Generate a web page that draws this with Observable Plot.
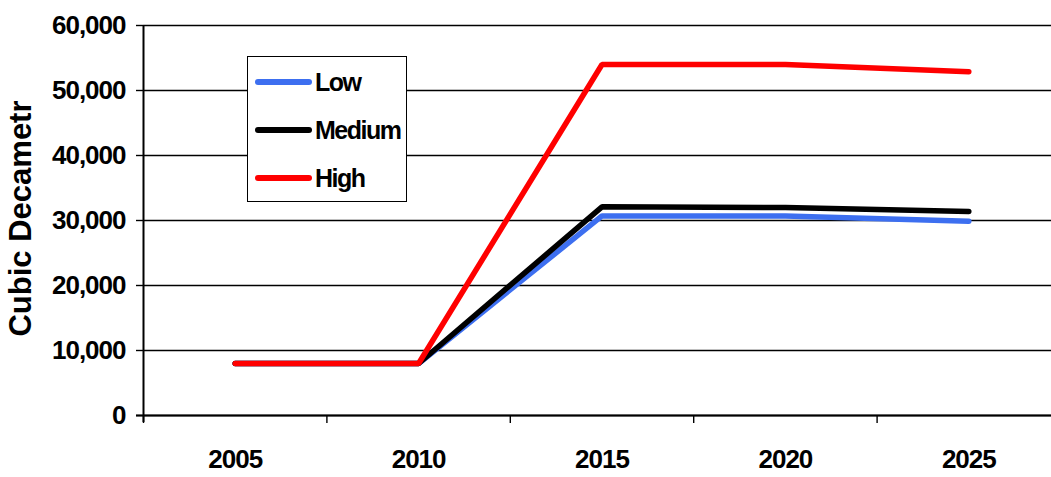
<!DOCTYPE html>
<html>
<head>
<meta charset="utf-8">
<script src="https://cdn.jsdelivr.net/npm/d3@7"></script>
<script src="https://cdn.jsdelivr.net/npm/@observablehq/plot@0.6"></script>
<style>
  html, body { margin: 0; padding: 0; background: #fff; }
  body { font-family: "Liberation Sans", Arial, sans-serif; }
  #chart { position: relative; width: 1051px; height: 477px; overflow: hidden; }
  #chart svg { display: block; }
  .legend {
    position: absolute; left: 247px; top: 56px; width: 160px; height: 146px;
    box-sizing: border-box; border: 1.5px solid #000; background: #fff;
  }
  .legend .item { position: absolute; left: 7px; height: 30px; display: flex; align-items: center; }
  .legend .swatch { width: 57px; height: 6px; border-radius: 3px; }
  .legend .name { margin-left: 3px; font-size: 25px; font-weight: bold; letter-spacing: -1.5px; color: #000; }
</style>
</head>
<body>
<div id="chart"></div>
<script>
// Projected volumes per scenario, in cubic decametres
const years = [2005, 2010, 2015, 2020, 2025];
const lowValues = [8000, 8000, 30700, 30700, 29900];
const mediumValues = [8000, 8000, 32100, 32000, 31400];
const highValues = [8000, 8000, 54000, 54000, 52900];

const seriesNames = ["Low", "Medium", "High"];
const seriesColors = ["#3d6ff0", "#000000", "#ff0000"];
const yTicks = [0, 10000, 20000, 30000, 40000, 50000, 60000];
const yTitle = "Cubic Decametr";

// Category boundaries sit halfway between consecutive years
const step = years[1] - years[0];
const boundaries = years.map(y => y - step / 2);
const xDomain = [years[0] - step / 2, years[years.length - 1] + step / 2];

const seriesValues = [lowValues, mediumValues, highValues];
const table = seriesNames.flatMap((name, i) =>
  years.map((year, j) => ({series: name, year, value: seriesValues[i][j]}))
);

const font = {fontSize: 26, fontWeight: "bold"};

const chart = Plot.plot({
  width: 1051,
  height: 477,
  marginLeft: 143,
  marginTop: 25,
  marginBottom: 62,
  marginRight: 0,
  style: {fontFamily: "'Liberation Sans', Arial, sans-serif", color: "#000", background: "#fff", overflow: "visible"},
  x: {type: "linear", domain: xDomain, range: [143, 1060]},
  y: {domain: [0, 60000], range: [415, 25]},
  color: {domain: seriesNames, range: seriesColors},
  marks: [
    Plot.gridY(yTicks, {stroke: "#000", strokeOpacity: 1, strokeWidth: 1.4}),
    Plot.axisY({
      ticks: yTicks, tickFormat: d3.format(","), tickSize: 7, tickPadding: 11,
      label: null, strokeWidth: 1.4, ...font
    }),
    Plot.axisX({ticks: boundaries, tickFormat: () => "", tickSize: 8, strokeWidth: 1.4, label: null}),
    Plot.axisX({
      ticks: years, tickFormat: d => String(d), tickSize: 0, tickPadding: 34,
      label: null, ...font
    }),
    Plot.ruleX([xDomain[0]], {stroke: "#000", strokeWidth: 2, insetBottom: -7}),
    Plot.ruleY([0], {stroke: "#000", strokeWidth: 2.2, insetLeft: -7}),
    Plot.text([yTitle], {
      frameAnchor: "left", textAnchor: "middle", dx: -122, dy: -2, rotate: -90,
      fontSize: 31, fontWeight: "bold", fill: "#000"
    }),
    Plot.line(table, {
      x: "year", y: "value", z: "series", stroke: "series",
      strokeWidth: 5.5, strokeLinejoin: "miter", strokeLinecap: "round"
    })
  ]
});

d3.select(chart).selectAll("g[aria-label='x-axis tick label'] text, g[aria-label='y-axis tick label'] text")
  .attr("letter-spacing", "-1px");

const container = document.getElementById("chart");
container.appendChild(chart);

// Legend box drawn over the plot area
const legend = document.createElement("div");
legend.className = "legend";
seriesNames.forEach((name, i) => {
  const item = document.createElement("div");
  item.className = "item";
  item.style.top = (10 + i * 48) + "px";
  const sw = document.createElement("div");
  sw.className = "swatch";
  sw.style.background = seriesColors[i];
  const label = document.createElement("span");
  label.className = "name";
  label.textContent = name;
  item.appendChild(sw);
  item.appendChild(label);
  legend.appendChild(item);
});
container.appendChild(legend);
</script>
</body>
</html>
